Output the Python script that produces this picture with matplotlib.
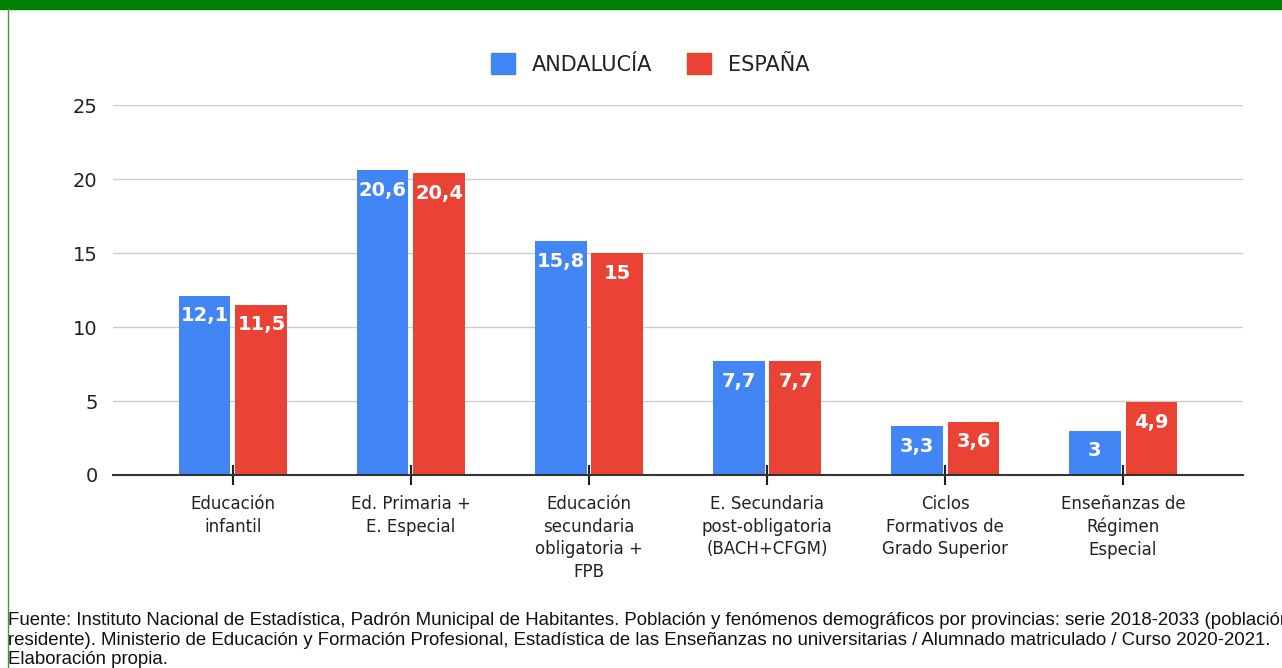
import numpy as np
import matplotlib
matplotlib.use("Agg")
import matplotlib.pyplot as plt
from matplotlib.patches import Rectangle, Patch
from matplotlib.lines import Line2D

# datos del gráfico
categorias = ["Educación\ninfantil", "Ed. Primaria +\nE. Especial",
              "Educación\nsecundaria\nobligatoria +\nFPB",
              "E. Secundaria\npost-obligatoria\n(BACH+CFGM)",
              "Ciclos\nFormativos de\nGrado Superior",
              "Enseñanzas de\nRégimen\nEspecial"]
andalucia = [12.1, 20.6, 15.8, 7.7, 3.3, 3.0]
espana = [11.5, 20.4, 15.0, 7.7, 3.6, 4.9]
series = ["ANDALUCÍA", "ESPAÑA"]
yticks = [0, 5, 10, 15, 20, 25]

fuente = ("Fuente: Instituto Nacional de Estadística, Padrón Municipal de Habitantes. "
          "Población y fenómenos demográficos por provincias: serie 2018-2033 (población\n"
          "residente). Ministerio de Educación y Formación Profesional, Estadística de las "
          "Enseñanzas no universitarias / Alumnado matriculado / Curso 2020-2021.\n"
          "Elaboración propia.")

AZUL = "#4285F4"
ROJO = "#EA4335"

plt.rcParams["font.family"] = ["DejaVu Sans"]

W, H = 1282, 668
fig = plt.figure(figsize=(W / 100, H / 100), dpi=100)

# marco verde (barra superior y linea izquierda)
fig.patches.append(Rectangle((0, 1 - 9 / H), 1, 9 / H, transform=fig.transFigure,
                             color="#008000", zorder=0))
fig.lines.append(Line2D([7.5 / W, 7.5 / W], [0, 1 - 9 / H], transform=fig.transFigure,
                        color="#3c9a3c", lw=1))

ax = fig.add_axes([113 / W, (H - 475) / H, (1243 - 113) / W, (475 - 105) / H])

x = np.arange(len(categorias))
ancho = 0.292
off = 0.16
b1 = ax.bar(x - off, andalucia, ancho, color=AZUL, zorder=2)
b2 = ax.bar(x + off, espana, ancho, color=ROJO, zorder=2)

def fmt(v):
    s = f"{v:.1f}".replace(".", ",")
    return s[:-2] if s.endswith(",0") else s

for barras, vals in ((b1, andalucia), (b2, espana)):
    for b, v in zip(barras, vals):
        ax.annotate(fmt(v), (b.get_x() + b.get_width() / 2, v), xytext=(0, -20),
                    textcoords="offset pixels", ha="center", va="center",
                    color="white", fontsize=14, fontweight="bold", zorder=3)

ax.set_xlim(-0.674, 5.674)
ax.set_ylim(0, 25)
ax.set_yticks(yticks)
ax.set_yticklabels([str(t) for t in yticks], fontsize=14, color="#222222")
ax.set_xticks(x)
ax.set_xticklabels(categorias, fontsize=12, color="#222222", linespacing=1.33)
ax.tick_params(axis="y", length=0, pad=11)
ax.tick_params(axis="x", direction="inout", length=15, width=1.5, color="#222222", pad=7)

ax.grid(axis="y", color="#cccccc", lw=1, zorder=0)
for s in ["top", "right", "left"]:
    ax.spines[s].set_visible(False)
ax.spines["bottom"].set_color("#333333")
ax.spines["bottom"].set_linewidth(1.5)
ax.spines["bottom"].set_zorder(4)

handles = [Patch(color=AZUL), Patch(color=ROJO)]
fig.legend(handles, series, loc="center", bbox_to_anchor=(650 / W, 1 - 64 / H),
           ncol=2, frameon=False, fontsize=15, handlelength=1.15, handleheight=1.15,
           handletextpad=0.8, columnspacing=1.7, labelcolor="#222222")

# nota de fuente (recortada por el borde, como en el original)
fig.text(8 / W, 1 - 612 / H, fuente, fontsize=13.4, family=["Liberation Sans", "DejaVu Sans"],
         color="#111111", va="top", ha="left", linespacing=1.2)

fig.savefig("out.png", dpi=100)
plt.close(fig)
